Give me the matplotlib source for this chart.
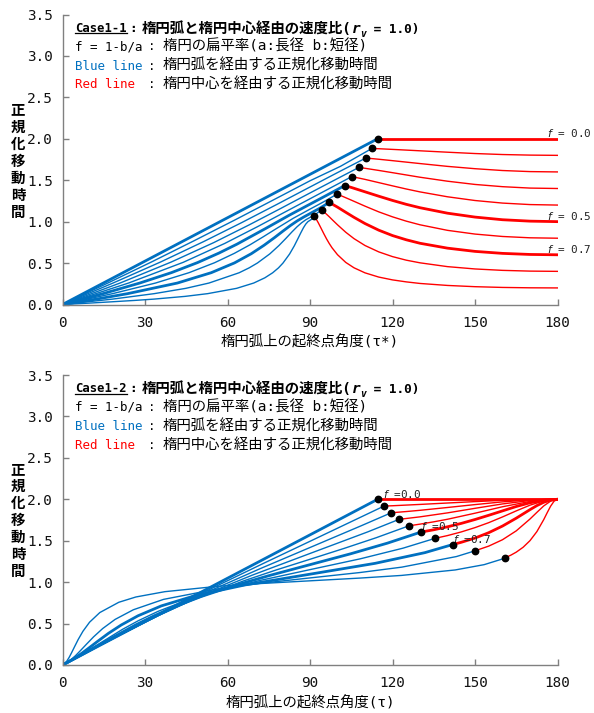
"""Case1-1 / Case1-2: normalised travel time, along the ellipse arc vs. through the centre."""

import matplotlib

matplotlib.use("Agg")
import matplotlib.pyplot as plt
from matplotlib.lines import Line2D
from matplotlib.transforms import IdentityTransform

plt.rcParams["font.family"] = ["DejaVu Sans Mono", "Noto Sans CJK JP"]

W, H = 594, 713
BLUE = "#0070C0"
RED = "#FF0000"
AXIS_GREY = "#808080"

F_VALUES = [0.0, 0.1, 0.2, 0.3, 0.4, 0.5, 0.6, 0.7, 0.8, 0.9]
THICK = [0.0, 0.5, 0.7]
X_TICKS = [0, 30, 60, 90, 120, 150, 180]
Y_TICKS = [0.0, 0.5, 1.0, 1.5, 2.0, 2.5, 3.0, 3.5]
Y_LABEL = "正規化移動時間"

# ---------------- Case1-1 ----------------
c11_cross_x = [114.6, 112.5, 110.3, 107.8, 105.2, 102.6, 99.8, 97.0, 94.2, 91.5]
c11_cross_y = [2.000, 1.883, 1.768, 1.655, 1.544, 1.435, 1.332, 1.232, 1.141, 1.068]

c11_blue_x = [
    [0],
    [0, 16.6, 32.7, 48.0, 62.5, 76.4, 90, 101.1],
    [0, 18.5, 35.8, 51.3, 65.2, 77.9, 90, 100],
    [0, 21.0, 39.5, 55.0, 68.0, 79.4, 90, 100],
    [0, 24.1, 43.9, 59.0, 70.9, 80.9, 90, 97.5],
    [0, 14.75, 28.19, 39.64, 49.11, 56.91, 63.43, 73.90, 82.37, 90, 96],
    [0, 18.22, 33.82, 46.01, 55.29, 62.47, 68.20, 72.94, 76.99, 83.88, 90, 95],
    [0, 12.32, 23.69, 41.77, 54.09, 62.54, 68.65, 73.30, 77.04, 80.17, 82.92,
     85.40, 87.74, 90, 93.5],
    [0, 9.30, 18.15, 33.35, 44.84, 53.27, 64.22, 67.92, 70.89, 75.39, 78.69,
     81.27, 83.41, 85.26, 86.93, 88.49, 90, 92],
    [0, 9.29, 18.13, 26.16, 33.24, 44.57, 52.78, 63.31, 69.53, 73.58, 76.43,
     78.54, 80.17, 82.57, 84.29, 85.61, 86.70, 87.63, 88.47, 89.25, 90, 90.75],
]
c11_blue_y = [
    [0],
    [0, .261, .519, .772, 1.017, 1.257, 1.493, 1.668],
    [0, .261, .515, .759, .989, 1.207, 1.418, 1.592],
    [0, .260, .512, .747, .963, 1.160, 1.346, 1.520],
    [0, .260, .509, .737, .939, 1.116, 1.276, 1.408],
    [0, .131, .260, .385, .506, .621, .728, .918, 1.076, 1.211, 1.317],
    [0, .131, .259, .384, .504, .617, .721, .816, .900, 1.040, 1.151, 1.240],
    [0, .065, .131, .259, .384, .502, .613, .715, .806, .886, .954,
     1.010, 1.056, 1.097, 1.161],
    [0, .033, .065, .131, .195, .259, .383, .443, .501, .611, .711,
     .799, .875, .937, .986, 1.023, 1.051, 1.089],
    [0, .016, .033, .049, .065, .098, .131, .195, .259, .322, .383,
     .442, .500, .609, .708, .795, .868, .927, .971, 1.000, 1.016, 1.032],
]
c11_red_x = [
    [180],
    [115, 120, 130, 140, 150, 160, 170, 180],
    [115, 120, 130, 140, 150, 160, 170, 180],
    [110, 115, 120, 130, 140, 150, 160, 170, 180],
    [110, 115, 120, 125, 130, 140, 150, 160, 170, 180],
    [105, 110, 115, 120, 125, 130, 140, 150, 160, 170, 180],
    [102, 105, 110, 115, 120, 125, 130, 140, 150, 160, 170, 180],
    [100, 103, 106, 110, 115, 120, 125, 130, 140, 150, 160, 170, 180],
    [95, 96, 97, 98, 100, 103, 106, 110, 115, 120, 125, 130, 140, 150, 160, 170, 180],
    [92.25, 93, 94, 95, 96, 97, 98, 100, 103, 106, 110, 115, 120, 125, 130,
     140, 150, 160, 170, 180],
]
c11_red_y = [
    [2.0],
    [1.880, 1.872, 1.855, 1.838, 1.822, 1.810, 1.803, 1.800],
    [1.753, 1.736, 1.701, 1.667, 1.639, 1.617, 1.604, 1.600],
    [1.644, 1.618, 1.591, 1.536, 1.488, 1.449, 1.422, 1.405, 1.400],
    [1.510, 1.471, 1.432, 1.394, 1.359, 1.300, 1.255, 1.224, 1.206, 1.200],
    [1.413, 1.360, 1.307, 1.256, 1.209, 1.168, 1.102, 1.055, 1.023, 1.006, 1.000],
    [1.303, 1.260, 1.187, 1.118, 1.058, 1.006, .962, .895, .850, .821, .805, .800],
    [1.175, 1.113, 1.052, .977, .897, .832, .781, .739, .680, .641, .617, .604, .600],
    [1.120, 1.090, 1.059, 1.026, .962, .872, .795, .712, .635, .578, .535, .503,
     .457, .429, .412, .403, .400],
    [1.031, .987, .922, .856, .793, .736, .685, .601, .508, .443, .382, .331,
     .297, .273, .254, .230, .215, .206, .2015, .200],
]
c11_labels = ["= 0.0", "= 0.5", "= 0.7"]
c11_label_x = [176.2, 176.2, 176.2]
c11_label_y = [2.07, 1.065, 0.665]

# ---------------- Case1-2 ----------------
c12_cross_x = [114.6, 116.9, 119.5, 122.4, 126.0, 130.3, 135.5, 141.9, 150.0, 161.0]
c12_cross_y = [2.000, 1.918, 1.837, 1.758, 1.680, 1.604, 1.529, 1.454, 1.378, 1.295]

c12_blue_x = [
    [0],
    [0, 13.56, 27.46, 41.99, 57.32, 73.42, 90, 106.58],
    [0, 12.10, 24.79, 38.66, 54.18, 71.48, 90, 108.52],
    [0, 10.62, 22.01, 34.99, 50.49, 69.05, 90, 110.95],
    [0, 9.13, 19.11, 30.96, 46.10, 65.94, 77.62, 90, 102.38, 114.06],
    [0, 3.77, 7.63, 16.10, 26.57, 33.09, 40.89, 50.36, 61.82, 75.25, 90, 104.75, 118.18],
    [0, 3.01, 6.12, 13.00, 21.80, 27.53, 34.71, 44.00, 56.18, 71.78, 90, 108.22, 123.82],
    [0, 2.26, 4.60, 7.08, 9.83, 12.96, 16.70, 21.36, 27.46, 35.91, 48.23, 66.31,
     90, 113.69, 131.77],
    [0, 1.51, 3.07, 4.74, 6.59, 8.72, 11.31, 14.61, 19.11, 25.78, 36.74, 56.64,
     71.85, 90, 108.15, 123.36, 143.26],
    [0, .38, .75, 1.53, 2.37, 3.30, 4.39, 5.71, 7.43, 9.83, 13.57, 20.47, 26.69,
     37.22, 56.76, 71.87, 90, 108.13, 123.24, 142.78, 153.31, 159.53],
]
c12_blue_y = [
    [0],
    [0, .236, .476, .722, .974, 1.232, 1.493, 1.755],
    [0, .211, .429, .659, .903, 1.157, 1.418, 1.679],
    [0, .185, .382, .598, .834, 1.085, 1.346, 1.606],
    [0, .160, .337, .539, .768, 1.016, 1.146, 1.276, 1.407, 1.536],
    [0, .066, .135, .293, .483, .590, .705, .826, .952, 1.080, 1.211, 1.342, 1.471],
    [0, .053, .111, .250, .430, .534, .647, .766, .891, 1.020, 1.151, 1.281, 1.410],
    [0, .040, .087, .143, .211, .290, .382, .483, .594, .713, .837, .966,
     1.096, 1.227, 1.356],
    [0, .028, .064, .113, .176, .251, .340, .440, .550, .667, .792, .920,
     .985, 1.051, 1.116, 1.181, 1.309],
    [0, .007, .016, .045, .089, .148, .221, .308, .407, .516, .633, .757, .821,
     .885, .951, .983, 1.016, 1.049, 1.081, 1.147, 1.211, 1.275],
]
c12_red_x = [
    [180],
    [120, 130, 140, 150, 160, 170, 180],
    [125, 130, 140, 150, 160, 170, 180],
    [130, 140, 150, 160, 170, 180],
    [130, 135, 140, 150, 160, 170, 180],
    [135, 140, 145, 150, 155, 160, 165, 170, 175, 180],
    [140, 145, 150, 155, 160, 165, 170, 175, 180],
    [145, 150, 155, 160, 165, 170, 172.5, 175, 177.5, 180],
    [155, 160, 165, 170, 172.5, 175, 177.5, 180],
    [163, 165, 167.5, 170, 172.5, 175, 176.25, 177.5, 178.75, 180],
]
c12_red_y = [
    [2.0],
    [1.922, 1.938, 1.955, 1.972, 1.987, 1.996, 2.000],
    [1.852, 1.867, 1.901, 1.936, 1.969, 1.992, 2.000],
    [1.788, 1.836, 1.891, 1.944, 1.985, 2.000],
    [1.700, 1.728, 1.759, 1.832, 1.910, 1.974, 2.000],
    [1.632, 1.668, 1.709, 1.756, 1.807, 1.860, 1.913, 1.958, 1.989, 2.000],
    [1.562, 1.606, 1.658, 1.718, 1.787, 1.860, 1.929, 1.981, 2.000],
    [1.481, 1.532, 1.597, 1.677, 1.772, 1.875, 1.924, 1.964, 1.991, 2.000],
    [1.435, 1.512, 1.619, 1.762, 1.842, 1.920, 1.978, 2.000],
    [1.325, 1.362, 1.421, 1.501, 1.610, 1.755, 1.838, 1.917, 1.977, 2.000],
]
c12_labels = ["=0.0", "=0.5", "=0.7"]
c12_label_x = [116.4, 130.5, 142.0]
c12_label_y = [2.066, 1.677, 1.516]

# pixel layout of the reference
AX_L, AX_R = 62.5, 557.5
AX_H = 290.0
TOP_Y0, BOT_Y0 = 304.5, 665.0


def px_x(px):
    return (px - AX_L) / (AX_R - AX_L)


def draw_case(ax, bx, by, rx, ry, cx, cy, labels, lx, ly):
    for i, f in enumerate(F_VALUES):
        lw = 2.0 if f in THICK else 1.0
        ax.plot(bx[i] + [cx[i]], by[i] + [cy[i]], color=BLUE, lw=lw)
    for i, f in enumerate(F_VALUES):
        lw = 2.0 if f in THICK else 1.0
        ax.plot([cx[i]] + rx[i], [cy[i]] + ry[i], color=RED, lw=lw)
    ax.plot(cx, cy, "o", color="black", ms=4.6, zorder=5)
    for s, x, y in zip(labels, lx, ly):
        ax.text(x, y, "$f$ " + s, fontsize=7.9, color="#222222", va="center", ha="left")

    ax.set_xlim(0, 180)
    ax.set_ylim(0, 3.5)
    ax.set_xticks(X_TICKS)
    ax.set_yticks(Y_TICKS)
    ax.set_yticklabels([f"{v:.1f}" for v in Y_TICKS])
    for side in ("top", "right"):
        ax.spines[side].set_visible(False)
    for side in ("left", "bottom"):
        ax.spines[side].set_color(AXIS_GREY)
        ax.spines[side].set_linewidth(1.0)
    ax.tick_params(direction="in", length=4, width=1, color=AXIS_GREY,
                   labelsize=10.4, labelcolor="#111111")
    ax.tick_params(axis="x", pad=8)
    ax.tick_params(axis="y", pad=7)


def text_block(ax, case_name):
    ys = [0.952, 0.889, 0.822, 0.757]
    lat = 9.0
    jp = 10.4
    t_case = ax.text(px_x(75), ys[0], case_name, transform=ax.transAxes,
                     fontsize=8.8, fontweight="bold", va="center")
    ax.text(px_x(133), ys[0], ":", transform=ax.transAxes, fontsize=9.2,
            fontweight="bold", va="center", ha="center")
    t = ax.text(px_x(142), ys[0], "楕円弧と楕円中心経由の速度比(", transform=ax.transAxes,
                fontsize=jp, fontweight="bold", va="center")
    t = ax.annotate("r", xy=(1, 0), xycoords=t, va="bottom", fontsize=jp,
                    fontweight="bold", fontstyle="italic")
    t = ax.annotate("v", xy=(1, 0), xycoords=t, xytext=(0, -2), textcoords="offset points",
                    va="bottom", fontsize=7, fontweight="bold", fontstyle="italic")
    ax.annotate(" = 1.0)", xy=(1, 0), xycoords=t, xytext=(0, 2), textcoords="offset points",
                va="bottom", fontsize=9.2, fontweight="bold")

    rows = [("f = 1-b/a", "black", "楕円の扁平率(a:長径 b:短径)"),
            ("Blue line", BLUE, "楕円弧を経由する正規化移動時間"),
            ("Red line", RED, "楕円中心を経由する正規化移動時間")]
    for y, (head, col, body) in zip(ys[1:], rows):
        ax.text(px_x(75), y, head, transform=ax.transAxes, fontsize=lat,
                color=col, va="center")
        ax.text(px_x(152), y, ":", transform=ax.transAxes, fontsize=lat,
                va="center", ha="center")
        ax.text(px_x(163), y, body, transform=ax.transAxes, fontsize=jp, va="center")
    return t_case


fig = plt.figure(figsize=(W / 100, H / 100), dpi=100)
ax1 = fig.add_axes([AX_L / W, (H - TOP_Y0) / H, (AX_R - AX_L) / W, AX_H / H])
ax2 = fig.add_axes([AX_L / W, (H - BOT_Y0) / H, (AX_R - AX_L) / W, AX_H / H])

draw_case(ax1, c11_blue_x, c11_blue_y, c11_red_x, c11_red_y, c11_cross_x, c11_cross_y,
          c11_labels, c11_label_x, c11_label_y)
draw_case(ax2, c12_blue_x, c12_blue_y, c12_red_x, c12_red_y, c12_cross_x, c12_cross_y,
          c12_labels, c12_label_x, c12_label_y)

case_texts = [text_block(ax1, "Case1-1"), text_block(ax2, "Case1-2")]

ax1.text(0.5, -(342 - TOP_Y0) / AX_H, "楕円弧上の起終点角度(τ*)", transform=ax1.transAxes,
         fontsize=10.4, ha="center", va="center")
ax2.text(0.5, -(703 - BOT_Y0) / AX_H, "楕円弧上の起終点角度(τ)", transform=ax2.transAxes,
         fontsize=10.4, ha="center", va="center")

# stacked vertical y label, one character per row
for y_mid in (161.5, 521.0):
    for k, ch in enumerate(Y_LABEL):
        y_px = y_mid + (k - 3) * 17.1
        fig.text(18 / W, 1 - y_px / H, ch, fontsize=10.4, fontweight="bold",
                 ha="center", va="center")

# underline under "Case1-x"
fig.canvas.draw()
for t in case_texts:
    bb = t.get_window_extent()
    fig.add_artist(Line2D([bb.x0, bb.x1], [bb.y0 + 1.5, bb.y0 + 1.5], color="black",
                          lw=0.9, transform=IdentityTransform()))

fig.savefig("out.png", dpi=100, facecolor="white")
